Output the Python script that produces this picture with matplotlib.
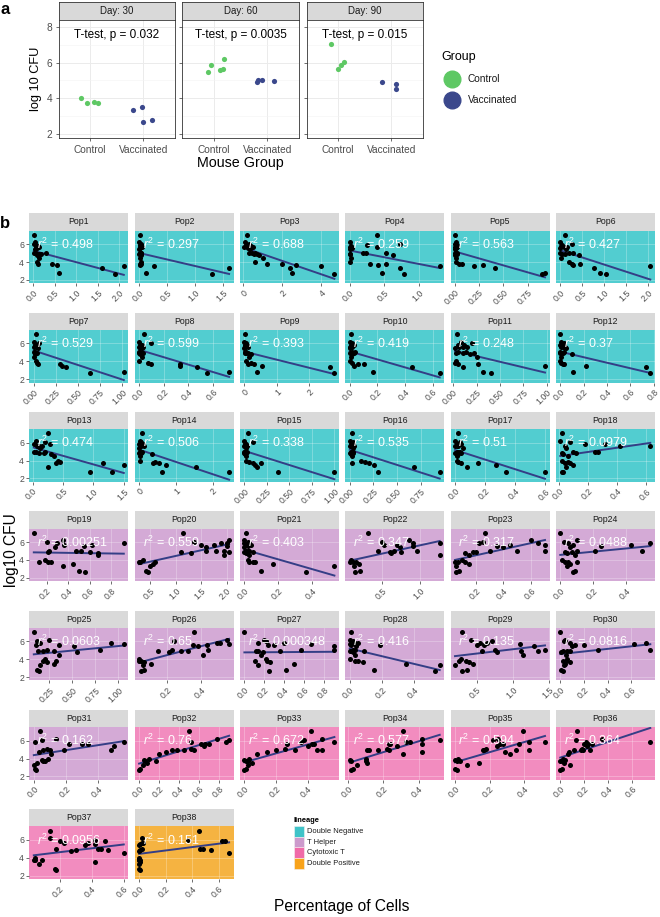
import numpy as np
import matplotlib
matplotlib.use('Agg')
import matplotlib.pyplot as plt
from matplotlib.lines import Line2D
from matplotlib.patches import Rectangle
from matplotlib.ticker import MaxNLocator
from matplotlib.transforms import blended_transform_factory

plt.rcParams['font.family'] = ['Liberation Sans', 'DejaVu Sans']
plt.rcParams['mathtext.fontset'] = 'custom'
plt.rcParams['mathtext.rm'] = 'Liberation Sans'
plt.rcParams['mathtext.it'] = 'Liberation Sans:italic'

# ---------------- panel a data ----------------
days = [30, 60, 90]
groups = ['Control', 'Vaccinated']
p_values = ['0.032', '0.0035', '0.015']
a_day = [30] * 8 + [60] * 9 + [90] * 7
a_group = (['Control'] * 4 + ['Vaccinated'] * 4 + ['Control'] * 5 + ['Vaccinated'] * 4
           + ['Control'] * 4 + ['Vaccinated'] * 3)
a_cfu = [4.0, 3.72, 3.8, 3.75, 3.33, 3.52, 2.68, 2.78,
         5.45, 5.85, 5.6, 5.65, 6.2, 4.9, 5.0, 5.02, 4.97,
         7.04, 5.64, 5.87, 6.05, 4.9, 4.78, 4.5]
a_jitter = [-0.16, -0.05, 0.08, 0.14, -0.19, -0.02, 0.0, 0.16,
            -0.12, -0.05, 0.11, 0.16, 0.18, -0.19, -0.18, -0.11, 0.13,
            -0.13, -0.01, 0.06, 0.12, -0.17, 0.09, 0.09]

# ---------------- panel b data ----------------
mouse_cfu = sorted(a_cfu, reverse=True)
pop_names = ['Pop%d' % i for i in range(1, 39)]
lineage = ['Double Negative'] * 18 + ['T Helper'] * 13 + ['Cytotoxic T'] * 6 + ['Double Positive']
lineage_order = ['Double Negative', 'T Helper', 'Cytotoxic T', 'Double Positive']
r2_labels = ['0.498', '0.297', '0.688', '0.259', '0.563', '0.427',
             '0.529', '0.599', '0.393', '0.419', '0.248', '0.37',
             '0.474', '0.506', '0.338', '0.535', '0.51', '0.0979',
             '0.00251', '0.559', '0.403', '0.347', '0.317', '0.0488',
             '0.0603', '0.65', '0.000348', '0.416', '0.135', '0.0816',
             '0.162', '0.76', '0.672', '0.577', '0.594', '0.364',
             '0.0956', '0.151']
# percentage of cells per mouse, same mouse order as mouse_cfu
pop_pct = [
    [0.02, 0.05, 0.03, 0.08, 0.12, 0.06, 0.15, 0.10, 0.04, 0.30, 0.02, 0.07, 0.13, 0.18, 0.09, 0.14, 0.10, 0.12, 0.45, 0.55, 2.10, 1.60, 0.60, 1.90],
    [0.01, 0.00, 0.03, 0.02, 0.04, 0.01, 0.05, 0.02, 0.00, 0.03, 0.01, 0.04, 0.02, 0.00, 0.03, 0.01, 0.03, 0.01, 0.04, 0.02, 0.27, 1.60, 0.12, 1.30],
    [0.20, 0.10, 0.30, 0.15, 0.40, 0.05, 0.50, 0.25, 0.35, 0.30, 0.45, 0.60, 0.70, 0.55, 0.80, 1.00, 0.60, 1.20, 2.00, 2.70, 4.00, 2.40, 2.50, 4.70],
    [0.40, 0.00, 0.72, 0.25, 0.02, 0.40, 0.01, 0.03, 0.00, 0.19, 0.24, 0.52, 0.01, 0.00, 0.62, 0.02, 0.00, 0.29, 0.52, 0.41, 1.30, 0.73, 0.46, 0.79],
    [0.00, 0.01, 0.00, 0.02, 0.01, 0.00, 0.02, 0.01, 0.00, 0.02, 0.01, 0.00, 0.02, 0.01, 0.00, 0.01, 0.01, 0.04, 0.07, 0.29, 0.20, 0.41, 0.93, 0.90],
    [0.10, 0.00, 0.26, 0.05, 0.02, 0.15, 0.08, 0.00, 0.12, 0.20, 0.00, 0.30, 0.05, 0.10, 0.42, 0.01, 0.20, 0.26, 0.45, 0.30, 2.05, 0.77, 0.90, 1.03],
    [0.02, 0.00, 0.06, 0.01, 0.03, 0.00, 0.04, 0.02, 0.05, 0.01, 0.00, 0.03, 0.02, 0.04, 0.01, 0.00, 0.02, 0.04, 0.05, 0.30, 0.32, 0.36, 1.02, 0.64],
    [0.04, 0.00, 0.10, 0.01, 0.02, 0.00, 0.03, 0.01, 0.02, 0.00, 0.01, 0.03, 0.02, 0.00, 0.01, 0.02, 0.00, 0.07, 0.10, 0.33, 0.33, 0.47, 0.73, 0.55],
    [0.02, 0.00, 0.05, 0.01, 0.08, 0.03, 0.10, 0.02, 0.00, 0.06, 0.01, 0.04, 0.12, 0.03, 0.20, 0.15, 0.05, 0.20, 0.30, 0.10, 0.55, 2.65, 0.40, 2.80],
    [0.01, 0.00, 0.02, 0.01, 0.03, 0.00, 0.02, 0.01, 0.00, 0.02, 0.04, 0.01, 0.00, 0.03, 0.02, 0.01, 0.00, 0.02, 0.06, 0.10, 0.03, 0.45, 0.17, 0.65],
    [0.04, 0.08, 0.20, 0.12, 0.05, 0.10, 0.06, 0.15, 0.02, 0.14, 0.05, 0.22, 0.10, 0.03, 0.18, 0.25, 0.03, 0.02, 0.26, 0.05, 0.98, 0.11, 0.32, 0.40],
    [0.00, 0.01, 0.03, 0.02, 0.00, 0.04, 0.01, 0.02, 0.05, 0.00, 0.03, 0.01, 0.02, 0.00, 0.10, 0.01, 0.00, 0.01, 0.03, 0.02, 0.22, 0.73, 0.11, 0.77],
    [0.25, 0.05, 0.20, 0.28, 0.02, 0.10, 0.15, 0.08, 0.12, 0.02, 0.20, 0.05, 0.18, 0.10, 0.30, 0.35, 0.42, 0.45, 1.15, 0.38, 1.50, 0.25, 1.30, 0.95],
    [0.08, 0.02, 0.05, 0.10, 0.01, 0.03, 0.12, 0.04, 0.00, 0.06, 0.02, 0.09, 0.01, 0.05, 0.35, 0.03, 0.02, 0.42, 0.37, 0.55, 0.72, 1.55, 0.62, 2.45],
    [0.04, 0.00, 0.10, 0.01, 0.02, 0.00, 0.03, 0.01, 0.02, 0.00, 0.01, 0.03, 0.02, 0.00, 0.01, 0.02, 0.02, 0.05, 0.18, 0.10, 0.12, 0.14, 1.00, 0.37],
    [0.02, 0.00, 0.03, 0.01, 0.04, 0.02, 0.05, 0.00, 0.03, 0.01, 0.02, 0.04, 0.00, 0.03, 0.01, 0.02, 0.12, 0.16, 0.20, 0.02, 0.26, 0.68, 0.30, 0.95],
    [0.02, 0.00, 0.03, 0.01, 0.04, 0.02, 0.01, 0.00, 0.05, 0.02, 0.03, 0.01, 0.00, 0.04, 0.02, 0.01, 0.01, 0.02, 0.15, 0.04, 0.27, 0.08, 0.34, 0.60],
    [0.02, 0.01, 0.08, 0.32, 0.18, 0.63, 0.04, 0.42, 0.05, 0.25, 0.27, 0.10, 0.02, 0.12, 0.03, 0.06, 0.02, 0.06, 0.04, 0.08, 0.10, 0.05, 0.03, 0.02],
    [0.08, 0.35, 0.20, 0.92, 0.30, 0.62, 0.36, 0.55, 0.28, 0.47, 0.52, 0.22, 0.60, 0.21, 0.68, 0.68, 0.18, 0.21, 0.13, 0.24, 0.45, 0.35, 0.50, 0.56],
    [1.15, 2.05, 1.35, 1.90, 2.00, 1.75, 1.50, 2.00, 1.60, 1.80, 1.95, 1.60, 1.10, 2.05, 1.30, 1.95, 0.35, 0.28, 0.30, 0.60, 0.55, 0.50, 0.42, 0.45],
    [0.01, 0.00, 0.02, 0.03, 0.00, 0.01, 0.04, 0.02, 0.00, 0.03, 0.01, 0.02, 0.05, 0.00, 0.01, 0.03, 0.02, 0.03, 0.06, 0.05, 0.17, 0.53, 0.10, 0.36],
    [0.32, 0.85, 0.50, 0.90, 1.25, 0.52, 0.70, 0.90, 0.73, 0.65, 0.45, 0.95, 0.75, 0.60, 0.62, 1.25, 0.10, 0.12, 0.16, 0.08, 0.20, 0.14, 0.22, 0.15],
    [0.27, 0.60, 0.25, 0.65, 0.22, 0.70, 0.45, 0.35, 0.40, 0.50, 0.70, 0.30, 0.18, 0.20, 0.12, 0.15, 0.10, 0.07, 0.05, 0.12, 0.15, 0.06, 0.08, 0.06],
    [0.00, 0.10, 0.02, 0.55, 0.05, 0.43, 0.08, 0.25, 0.06, 0.21, 0.50, 0.10, 0.03, 0.07, 0.04, 0.09, 0.01, 0.10, 0.03, 0.05, 0.06, 0.04, 0.09, 0.08],
    [0.08, 0.25, 0.12, 0.92, 0.15, 1.06, 0.35, 0.10, 0.52, 0.80, 0.22, 0.13, 0.18, 0.30, 0.55, 0.35, 0.20, 0.32, 0.18, 0.22, 0.30, 0.15, 0.11, 0.14],
    [0.36, 0.55, 0.24, 0.49, 0.51, 0.56, 0.43, 0.35, 0.38, 0.44, 0.23, 0.15, 0.32, 0.28, 0.21, 0.41, 0.04, 0.05, 0.04, 0.07, 0.11, 0.06, 0.07, 0.05],
    [0.00, 0.20, 0.22, 0.40, 0.14, 0.67, 0.24, 0.30, 0.90, 0.57, 0.90, 0.36, 0.14, 0.12, 0.19, 0.17, 0.22, 0.23, 0.11, 0.26, 0.50, 0.14, 0.42, 0.25],
    [0.01, 0.00, 0.02, 0.05, 0.03, 0.00, 0.19, 0.01, 0.04, 0.02, 0.03, 0.09, 0.00, 0.01, 0.02, 0.03, 0.00, 0.03, 0.05, 0.08, 0.35, 0.56, 0.15, 0.53],
    [0.30, 0.42, 0.72, 0.65, 0.55, 1.10, 0.50, 0.60, 1.30, 1.45, 0.75, 1.12, 0.58, 1.35, 0.78, 1.15, 0.28, 0.25, 0.35, 0.40, 0.45, 0.20, 0.36, 0.30],
    [0.00, 0.04, 0.03, 0.72, 0.08, 0.62, 0.12, 0.20, 0.10, 0.32, 0.76, 0.06, 0.08, 0.02, 0.01, 0.05, 0.06, 0.05, 0.02, 0.08, 0.04, 0.03, 0.01, 0.02],
    [0.04, 0.14, 0.05, 0.01, 0.56, 0.34, 0.22, 0.30, 0.50, 0.08, 0.48, 0.10, 0.19, 0.06, 0.03, 0.11, 0.09, 0.05, 0.07, 0.06, 0.02, 0.00, 0.01, 0.015],
    [0.50, 0.78, 0.90, 0.52, 0.87, 0.70, 0.66, 0.62, 0.65, 0.52, 0.45, 0.55, 0.33, 0.38, 0.27, 0.20, 0.10, 0.05, 0.17, 0.06, 0.08, 0.04, 0.01, 0.00],
    [0.42, 0.49, 0.38, 0.36, 0.57, 0.27, 0.44, 0.43, 0.40, 0.26, 0.46, 0.49, 0.20, 0.32, 0.14, 0.08, 0.03, 0.00, 0.01, 0.02, 0.05, 0.02, 0.01, 0.00],
    [0.31, 0.42, 0.52, 0.33, 0.35, 0.42, 0.24, 0.23, 0.28, 0.22, 0.11, 0.17, 0.12, 0.23, 0.42, 0.31, 0.10, 0.01, 0.02, 0.10, 0.11, 0.05, 0.03, 0.02],
    [0.39, 0.25, 0.22, 0.43, 0.52, 0.37, 0.26, 0.28, 0.24, 0.18, 0.43, 0.17, 0.35, 0.16, 0.29, 0.32, 0.02, 0.00, 0.01, 0.03, 0.14, 0.07, 0.00, 0.01],
    [0.14, 0.35, 0.13, 0.75, 0.21, 0.23, 0.20, 0.26, 0.22, 0.18, 0.25, 0.11, 0.17, 0.19, 0.07, 0.06, 0.02, 0.04, 0.00, 0.01, 0.03, 0.08, 0.01, 0.00],
    [0.14, 0.14, 0.42, 0.48, 0.20, 0.23, 0.38, 0.42, 0.36, 0.18, 0.44, 0.46, 0.30, 0.50, 0.27, 0.60, 0.05, 0.04, 0.05, 0.09, 0.42, 0.07, 0.17, 0.18],
    [0.45, 0.02, 0.37, 0.65, 0.63, 0.02, 0.03, 0.01, 0.00, 0.46, 0.02, 0.48, 0.54, 0.01, 0.00, 0.68, 0.00, 0.01, 0.00, 0.00, 0.01, 0.00, 0.00, 0.01],
]

group_colors = {'Control': '#5EC864', 'Vaccinated': '#3B488C'}
panel_colors = {'Double Negative': '#52CDD0', 'T Helper': '#D4AAD6',
                'Cytotoxic T': '#F28CBF', 'Double Positive': '#F5B341'}
key_colors = {'Double Negative': '#3FC3C8', 'T Helper': '#CC9ACC',
              'Cytotoxic T': '#F06AA8', 'Double Positive': '#F8A31B'}

W, H = 660, 917
fig = plt.figure(figsize=(W / 100, H / 100), dpi=100)


def box(x, y, w, h):
    return [x / W, 1 - (y + h) / H, w / W, h / H]


def fpos(x, y):
    return x / W, 1 - y / H


def strip(x, y, w, h, label, size, border):
    s = fig.add_axes(box(x, y, w, h))
    s.set_facecolor('#D9D9D9')
    s.set_xticks([])
    s.set_yticks([])
    for sp in s.spines.values():
        sp.set_visible(border)
        sp.set_color('#333333')
        sp.set_linewidth(0.6)
    s.text(0.5, 0.5, label, ha='center', va='center', fontsize=size, color='#1A1A1A',
           transform=s.transAxes)


# ---------------- panel a ----------------
a_day = np.array(a_day)
a_group = np.array(a_group)
a_cfu = np.array(a_cfu)
a_jitter = np.array(a_jitter)
for k, d in enumerate(days):
    left = 58.5 + 124 * k
    strip(left, 1.5, 116, 18.5, 'Day: %d' % d, 7, True)
    ax = fig.add_axes(box(left, 20, 116, 118.3))
    ax.set_xlim(0.41, 2.58)
    ax.set_ylim(1.78, 8.37)
    ax.set_xticks([1, 2])
    ax.set_xticklabels(groups)
    ax.set_yticks([2, 4, 6, 8])
    ax.set_yticks([3, 5, 7], minor=True)
    ax.grid(True, which='major', color='#EBEBEB', lw=0.7, zorder=0)
    ax.grid(True, which='minor', axis='y', color='#F3F3F3', lw=0.4, zorder=0)
    ax.set_axisbelow(True)
    ax.tick_params(which='minor', length=0)
    ax.tick_params(length=2.5, width=0.5, color='#333333', labelsize=7.3, labelcolor='#4D4D4D', pad=2)
    if k > 0:
        ax.tick_params(axis='y', labelleft=False)
    for sp in ax.spines.values():
        sp.set_color('#333333')
        sp.set_linewidth(0.6)
    for gi, g in enumerate(groups):
        m = (a_day == d) & (a_group == g)
        ax.scatter(gi + 1 + a_jitter[m], a_cfu[m], s=14, color=group_colors[g], lw=0, zorder=3)
    ax.text(0.5, 7.55, 'T-test, p = %s' % p_values[k], ha='center', va='center', fontsize=8.5,
            transform=blended_transform_factory(ax.transAxes, ax.transData))

fig.text(*fpos(5, 10), 'a', fontsize=12, fontweight='bold', ha='center', va='center')
fig.text(*fpos(36, 79), 'log 10 CFU', rotation=90, fontsize=9.2, ha='center', va='center')
fig.text(*fpos(240, 163), 'Mouse Group', fontsize=10.3, ha='center', va='center')
fig.text(*fpos(441, 57), 'Group', fontsize=9, ha='left', va='center')
for gi, g in enumerate(groups):
    yy = 79.3 + 20.7 * gi
    fig.add_artist(Line2D([451.5 / W], [1 - yy / H], marker='o', ms=12, color=group_colors[g],
                          lw=0, transform=fig.transFigure))
    fig.text(*fpos(467.5, yy), g, fontsize=7.3, color='#1A1A1A', ha='left', va='center')

# ---------------- panel b ----------------
col_left = [29.3, 134.6, 239.9, 345.2, 450.5, 555.8]
row_top = [213.3 + 99.3 * r for r in range(7)]
y = np.array(mouse_cfu)
for i, name in enumerate(pop_names):
    r, c = divmod(i, 6)
    left, top = col_left[c], row_top[r]
    strip(left, top, 99, 17.3, name, 6.3, False)
    ax = fig.add_axes(box(left, top + 17.3, 99, 52.6))
    ax.set_facecolor(panel_colors[lineage[i]])
    x = np.array(pop_pct[i])
    ax.scatter(x, y, s=13, color='black', lw=0, zorder=4)
    slope, icpt = np.polyfit(x, y, 1)
    xs = np.array([x.min(), x.max()])
    ax.plot(xs, slope * xs + icpt, color='#343E86', lw=1.4, zorder=3)
    pad = 0.05 * (x.max() - x.min())
    lo, hi = x.min() - pad, x.max() + pad
    ax.set_xlim(lo, hi)
    ax.set_ylim(1.63, 7.52)
    ticks = [t for t in MaxNLocator(nbins=5, steps=[1, 2, 2.5, 5, 10]).tick_values(lo, hi)
             if lo <= t <= hi]
    step = ticks[1] - ticks[0]
    dec = max(0, -int(np.floor(np.log10(step) + 1e-9)))
    if abs(round(step, dec) - step) > 1e-9:
        dec += 1
    ax.set_xticks(ticks)
    ax.set_xticklabels(['%.*f' % (dec, t) for t in ticks], rotation=45, ha='right',
                       rotation_mode='anchor')
    ax.set_yticks([2, 4, 6])
    ax.grid(True, color='white', alpha=0.3, lw=0.6, zorder=1)
    ax.set_axisbelow(True)
    for sp in ax.spines.values():
        sp.set_visible(False)
    ax.tick_params(length=2.2, width=0.5, color='#333333', labelsize=6.3, labelcolor='#4D4D4D', pad=1.5)
    if c > 0:
        ax.tick_params(axis='y', left=False, labelleft=False)
    ax.text(0.08, 6.0, r'$r^2$ = ' + r2_labels[i], color='white', fontsize=9, va='center', ha='left',
            transform=blended_transform_factory(ax.transAxes, ax.transData), zorder=5)

fig.text(*fpos(5, 224), 'b', fontsize=12, fontweight='bold', ha='center', va='center')
fig.text(*fpos(12, 550), 'log10 CFU', rotation=90, fontsize=11.2, ha='center', va='center')
fig.text(*fpos(342, 907), 'Percentage of Cells', fontsize=11.2, ha='center', va='center')

# lineage legend
fig.text(*fpos(294, 821), 'lineage', fontsize=5.4, fontweight='bold', ha='left', va='center')
for k, lin in enumerate(lineage_order):
    yy = 826 + 10.7 * k
    fig.add_artist(Rectangle(fpos(294, yy + 10.7), 10.3 / W, 10.7 / H, facecolor=key_colors[lin],
                             edgecolor='#F2F2F2', lw=0.4, transform=fig.transFigure))
    fig.text(*fpos(306.7, yy + 5.35), lin, fontsize=5.4, color='#1A1A1A', ha='left', va='center')

fig.savefig('out.png', dpi=100)
